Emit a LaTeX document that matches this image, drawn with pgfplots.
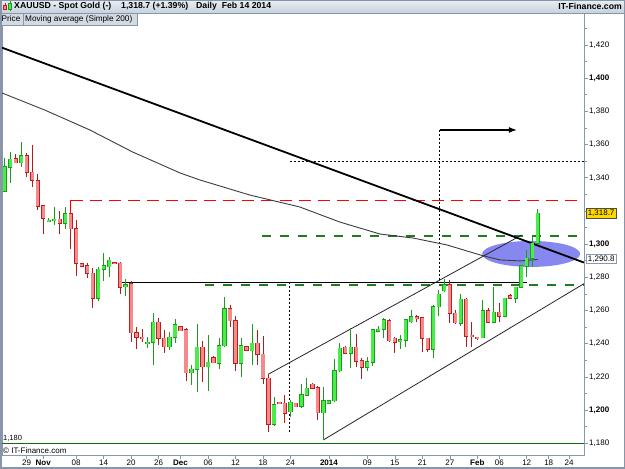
\documentclass[border=0pt]{standalone}
\usepackage{pgfplots}
\pgfplotsset{compat=1.18}
\usepackage{pgfplotstable}
\usepackage{fontspec}
\setmainfont{Liberation Sans}
\usetikzlibrary{arrows.meta}

\definecolor{upfill}{HTML}{48EE48}
\definecolor{upedge}{HTML}{17A017}
\definecolor{dnfill}{HTML}{F58A8A}
\definecolor{dnedge}{HTML}{BE1E1E}
\definecolor{upwick}{HTML}{1E9A1E}
\definecolor{dnwick}{HTML}{B01C1C}
\definecolor{framec}{HTML}{8796A8}
\definecolor{hdtop}{HTML}{E9EEF3}
\definecolor{hdbot}{HTML}{C7D2DD}
\definecolor{ellcol}{HTML}{8787F0}
\definecolor{lgreen}{HTML}{1E7D1E}
\definecolor{dgreen}{HTML}{0E6A0E}
\definecolor{magray}{HTML}{3C3C3C}
\definecolor{axgray}{HTML}{8A99AA}
\definecolor{ybox}{HTML}{FFD700}
\definecolor{tabfill}{HTML}{D3DAE2}

\pgfplotsset{candle/.style={forget plot, only marks, mark=*, mark size=0pt,
  mark options={draw=none, fill=none}}}

% Up candles: index O H L C
\pgfplotstableread{
i O H L C
0 1332.0 1351.7 1331.6 1346.7
1 1346.3 1355.7 1336.6 1351.1
3 1349.1 1361.8 1346.3 1353.3
8 1314.1 1315.5 1313.3 1314.3
9 1314.3 1322.6 1311.5 1315.0
11 1312.5 1322.6 1308.9 1318.2
17 1267.3 1286.4 1265.9 1284.8
18 1284.8 1294.5 1277.8 1286.8
19 1286.4 1292.0 1280.0 1290.4
22 1274.4 1278.8 1269.0 1275.4
26 1240.0 1243.8 1237.2 1240.8
27 1240.8 1258.3 1227.2 1252.9
30 1238.2 1246.9 1236.2 1243.8
31 1243.8 1254.7 1240.6 1251.5
34 1222.6 1227.2 1215.1 1224.5
35 1224.5 1251.7 1211.1 1237.8
37 1226.2 1245.0 1211.7 1228.8
39 1228.2 1243.2 1225.0 1238.8
40 1238.8 1267.9 1237.8 1260.9
43 1228.2 1243.2 1220.1 1238.6
45 1235.8 1251.9 1227.2 1240.2
49 1191.6 1208.1 1190.4 1203.1
52 1199.0 1206.1 1196.0 1204.7
54 1202.5 1215.7 1201.1 1209.1
55 1209.1 1219.1 1208.5 1213.1
58 1198.4 1214.1 1182.0 1205.7
59 1204.1 1206.1 1203.7 1205.7
60 1205.7 1230.8 1205.1 1223.8
61 1223.8 1240.6 1223.2 1237.2
63 1234.2 1249.3 1225.6 1237.8
66 1225.8 1231.8 1223.8 1229.0
67 1229.0 1248.7 1226.6 1248.3
68 1247.7 1250.7 1247.3 1248.7
69 1248.7 1255.3 1243.2 1254.3
72 1241.6 1245.2 1236.6 1242.2
73 1242.2 1254.7 1237.8 1254.3
74 1253.3 1260.3 1252.7 1256.3
78 1236.6 1263.3 1231.2 1262.3
79 1262.3 1272.4 1256.7 1269.8
80 1271.9 1278.8 1271.4 1275.4
83 1252.3 1269.8 1250.7 1266.7
87 1243.7 1266.4 1243.3 1259.9
89 1253.1 1274.0 1252.7 1258.9
91 1256.7 1267.8 1256.3 1267.4
93 1267.4 1274.4 1264.7 1274.0
94 1274.0 1287.4 1273.4 1286.8
95 1286.8 1296.5 1280.4 1291.5
96 1291.5 1304.5 1286.0 1300.5
97 1300.5 1321.2 1300.1 1318.7
}\upc

% Down candles: index O H L C
\pgfplotstableread{
i O H L C
2 1351.3 1354.3 1348.7 1349.1
4 1353.3 1354.7 1340.7 1343.3
5 1343.3 1359.7 1334.6 1338.6
6 1338.2 1342.3 1320.6 1323.0
7 1323.0 1323.6 1306.1 1315.5
10 1315.0 1320.0 1306.1 1312.5
12 1318.2 1319.4 1296.9 1309.3
13 1309.3 1314.5 1281.0 1288.4
14 1288.2 1288.8 1286.0 1286.6
15 1286.8 1288.4 1279.4 1282.4
16 1282.4 1285.4 1261.3 1267.3
20 1288.8 1289.4 1288.2 1288.4
21 1288.4 1289.0 1269.7 1274.0
23 1276.0 1277.5 1241.2 1246.7
24 1246.7 1250.3 1236.8 1243.8
25 1243.8 1248.9 1241.2 1243.4
28 1252.9 1255.3 1239.2 1243.2
29 1243.2 1248.3 1234.6 1238.2
32 1250.1 1250.5 1247.5 1247.9
33 1248.3 1249.3 1217.7 1222.6
36 1237.8 1241.6 1217.1 1226.2
38 1231.4 1232.6 1228.2 1228.6
41 1260.9 1263.3 1250.3 1253.9
42 1253.9 1256.7 1223.6 1228.2
44 1238.0 1238.6 1235.6 1236.0
46 1240.2 1248.3 1227.2 1233.6
47 1233.6 1244.6 1215.5 1219.1
48 1219.1 1221.6 1187.0 1191.6
50 1204.7 1205.1 1203.9 1204.3
51 1204.1 1209.1 1192.4 1198.0
53 1204.1 1204.5 1201.7 1202.1
56 1215.5 1216.1 1212.9 1213.3
57 1213.3 1214.5 1194.0 1198.4
62 1237.8 1238.6 1233.8 1234.2
64 1237.8 1245.8 1226.2 1229.6
65 1229.6 1231.6 1218.5 1225.8
70 1253.9 1254.7 1241.2 1241.8
71 1243.4 1244.2 1234.2 1241.0
75 1256.3 1257.3 1253.3 1255.1
76 1255.7 1256.3 1235.2 1243.3
77 1243.3 1243.7 1234.8 1236.6
81 1275.4 1278.4 1252.3 1258.3
82 1258.3 1260.3 1251.9 1252.7
84 1266.7 1267.4 1238.2 1244.7
85 1245.1 1253.3 1238.2 1244.3
86 1243.9 1244.3 1242.2 1243.5
88 1259.9 1261.3 1252.7 1253.1
90 1258.9 1264.3 1253.3 1256.7
92 1268.9 1270.2 1267.0 1267.4
}\dnc

% Simple moving average (200)
\pgfplotstableread{
i v
-0.49 1391.1
7.3 1380.8
15.5 1368.8
23.3 1355.5
31.9 1342.9
35.5 1338.7
44.6 1329.6
53.7 1322.4
61.0 1313.3
68.3 1306.1
74.3 1303.7
80.5 1299.5
86.5 1293.5
90.1 1290.5
93.8 1289.9
97.0 1290.8
}\ma

\begin{document}
\begin{tikzpicture}[x=1pt,y=1pt]
\path[use as bounding box] (0,0) rectangle (625,469);
\fill[white] (0,0) rectangle (625,469);
\begin{axis}[
  at={(2pt,14pt)}, anchor=south west,
  scale only axis, width=582pt, height=442pt,
  xmin=-0.49, xmax=105.42, ymin=1172.94, ymax=1439.29,
  axis line style={draw=axgray, line width=0.8pt},
  tick align=outside,
  xtick pos=left, ytick pos=right,
  yticklabel pos=right,
  major tick length=4pt, minor tick length=2.5pt,
  tick style={axgray, line width=0.6pt},
  xtick={4,7,13,18,23,28,32,37,42,47,52,59,66,71,76,81,86,90,95,99,102.7},
  xticklabels={29,\textbf{Nov},08,14,20,26,\textbf{Dec},06,12,18,24,\textbf{2014},09,15,21,27,\textbf{Feb},06,12,18,24},
  ytick={1180,1200,...,1420},
  minor ytick={1190,1210,...,1430},
  yticklabels={{1,180},{\textbf{1,200}},{1,220},{1,240},{1,260},{1,280},{\textbf{1,300}},{},{1,340},{1,360},{1,380},{\textbf{1,400}},{1,420}},
  ticklabel style={font=\fontsize{8}{9}\selectfont, text=black},
  yticklabel style={anchor=west, inner sep=0pt, xshift=1pt},
  xticklabel style={inner sep=1pt},
  clip=true,
]
% highlighted zone
\fill[ellcol] (axis cs:95.8,1294.1) ellipse [x radius=49pt, y radius=13pt];

% horizontal levels
\addplot [forget plot, dgreen, line width=1.1pt] coordinates {(-0.49,1180) (105.42,1180)};
\addplot [forget plot, red, line width=1.2pt] coordinates {(12,1318.4) (12,1326.5)};
\addplot [forget plot, red, line width=1.2pt, dash pattern=on 12pt off 7pt] coordinates {(12,1326.5) (105.42,1326.5)};
\addplot [forget plot, black, line width=0.9pt, dash pattern=on 2pt off 2pt] coordinates {(51.9,1350) (105.42,1350)};
\addplot [forget plot, lgreen, line width=1.1pt, dash pattern=on 9pt off 9pt] coordinates {(46.8,1304.9) (105.42,1304.9)};
\addplot [forget plot, lgreen, line width=1.1pt, dash pattern=on 9pt off 9pt] coordinates {(36.5,1275.4) (105.42,1275.4)};
\addplot [forget plot, black, line width=1.1pt] coordinates {(20.9,1277.0) (95.05,1277.0)};

% vertical dotted markers and arrow
\addplot [forget plot, black, line width=0.9pt, dash pattern=on 2pt off 2pt] coordinates {(79.2,1368.8) (79.2,1277.0)};
\addplot [forget plot, black, line width=0.9pt, dash pattern=on 2pt off 2pt] coordinates {(51.9,1277.0) (51.9,1186.0)};
\addplot [forget plot, black, line width=1.1pt, -{Latex[length=8pt,width=6pt]}] coordinates {(79.2,1368.8) (93.2,1368.8)};

% channel
\addplot [forget plot, black!85, line width=0.8pt] coordinates {(47.97,1221.6) (94.09,1305.5)};
\addplot [forget plot, black!85, line width=0.8pt] coordinates {(57.98,1182.0) (105.42,1276.2)};

% moving average
\addplot [forget plot, magray, line width=0.9pt] table [x=i, y=v] {\ma};

% long-term downtrend line
\addplot [forget plot, black, line width=1.8pt] coordinates {(-0.49,1418.4) (105.42,1288.9)};

% wicks
\addplot [candle, error bars/.cd, y dir=both, y explicit, error mark=none,
  error bar style={line width=0.9pt, color=upwick}]
  table [x=i, y expr={(\thisrow{H}+\thisrow{L})/2}, y error expr={(\thisrow{H}-\thisrow{L})/2}] {\upc};
\addplot [candle, error bars/.cd, y dir=both, y explicit, error mark=none,
  error bar style={line width=0.9pt, color=dnwick}]
  table [x=i, y expr={(\thisrow{H}+\thisrow{L})/2}, y error expr={(\thisrow{H}-\thisrow{L})/2}] {\dnc};
% bodies: outline
\addplot [candle, error bars/.cd, y dir=both, y explicit, error mark=none,
  error bar style={line width=4.2pt, color=upedge}]
  table [x=i, y expr={(\thisrow{O}+\thisrow{C})/2}, y error expr={abs(\thisrow{C}-\thisrow{O})/2+0.35}] {\upc};
\addplot [candle, error bars/.cd, y dir=both, y explicit, error mark=none,
  error bar style={line width=4.2pt, color=dnedge}]
  table [x=i, y expr={(\thisrow{O}+\thisrow{C})/2}, y error expr={abs(\thisrow{C}-\thisrow{O})/2+0.35}] {\dnc};
% bodies: fill
\addplot [candle, error bars/.cd, y dir=both, y explicit, error mark=none,
  error bar style={line width=3.1pt, color=upfill}]
  table [x=i, y expr={(\thisrow{O}+\thisrow{C})/2}, y error expr={abs(\thisrow{C}-\thisrow{O})/2}] {\upc};
\addplot [candle, error bars/.cd, y dir=both, y explicit, error mark=none,
  error bar style={line width=3.1pt, color=dnfill}]
  table [x=i, y expr={(\thisrow{O}+\thisrow{C})/2}, y error expr={abs(\thisrow{C}-\thisrow{O})/2}] {\dnc};
\end{axis}

% in-plot texts
\node[anchor=south west, inner sep=0pt, font=\fontsize{7.5}{8}\selectfont] at (3,27.5) {1,180};
\node[anchor=west, inner sep=0pt, font=\fontsize{8}{9}\selectfont] at (3,18) {\textcopyright\ IT-Finance.com};

% price boxes on the scale
\node[anchor=west, fill=ybox, draw=black!70, line width=0.5pt, inner sep=1.5pt, font=\fontsize{8}{9}\selectfont] at (586,256) {1,318.7};
\node[anchor=west, fill=white, draw=axgray, line width=0.8pt, inner sep=1.5pt, font=\fontsize{8}{9}\selectfont] at (586,210) {1,290.8};

% header
\shade[top color=hdtop, bottom color=hdbot] (0,456) rectangle (625,469);
\draw[framec, line width=0.6pt] (0,456) -- (625,456);
\fill[dnfill] (3.5,460) rectangle (6.5,464); \draw[dnedge, line width=0.5pt] (3.5,460) rectangle (6.5,464);
\draw[dnedge, line width=0.5pt] (5,458.5) -- (5,460) (5,464) -- (5,465.5);
\fill[upfill] (8.5,459.5) rectangle (11.5,466); \draw[upedge, line width=0.5pt] (8.5,459.5) rectangle (11.5,466);
\draw[upedge, line width=0.5pt] (10,458) -- (10,459.5) (10,466) -- (10,467.5);
\node[anchor=west, inner sep=0pt, font=\fontsize{8.7}{9}\selectfont\bfseries] at (14,462.5) {XAUUSD - Spot Gold (-)};
\node[anchor=west, inner sep=0pt, font=\fontsize{8.7}{9}\selectfont\bfseries] at (121,462.5) {1,318.7 (+1.39\%)};
\node[anchor=west, inner sep=0pt, font=\fontsize{8.7}{9}\selectfont\bfseries] at (196,462.5) {Daily\ \ Feb 14 2014};
\node[anchor=east, inner sep=0pt, font=\fontsize{8.7}{9}\selectfont\bfseries] at (622,462.5) {IT-Finance.com};

% legend tabs
\draw[framec, fill=tabfill, line width=0.5pt] (0,444) rectangle (23.5,456);
\draw[framec, fill=tabfill, line width=0.5pt] (23.5,444) rectangle (137,456);
\node[anchor=west, inner sep=0pt, font=\fontsize{8.2}{9}\selectfont] at (1.5,450) {Price};
\node[anchor=west, inner sep=0pt, font=\fontsize{8.2}{9}\selectfont] at (25,450) {Moving average (Simple 200)};

% frame
\draw[framec, line width=1.5pt] (0.75,0.75) rectangle (624.25,468.25);
\end{tikzpicture}
\end{document}
